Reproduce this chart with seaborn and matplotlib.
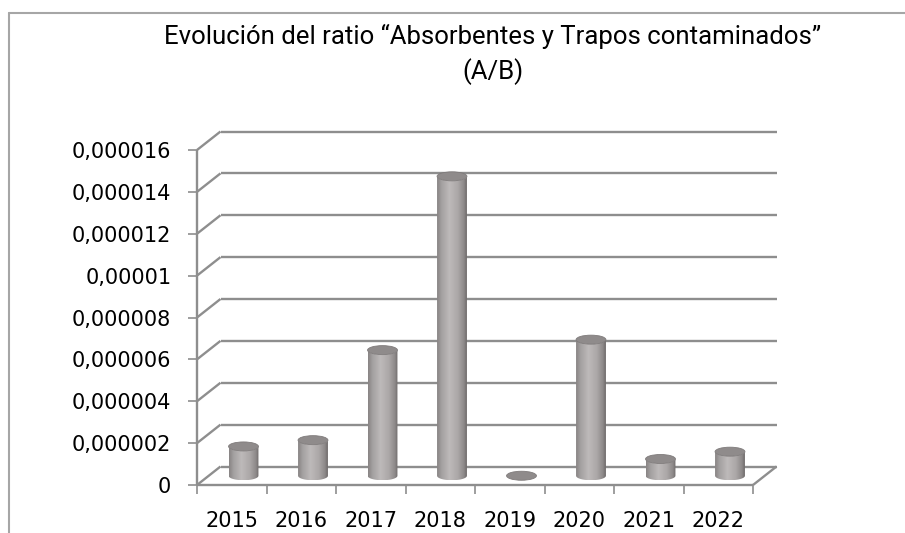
import numpy as np
import pandas as pd
import matplotlib
matplotlib.use("Agg")
import matplotlib.pyplot as plt
import seaborn as sns
from matplotlib.path import Path
from matplotlib.patches import PathPatch, Ellipse
from matplotlib.lines import Line2D
from matplotlib.colors import LinearSegmentedColormap

# Data
years = ["2015", "2016", "2017", "2018", "2019", "2020", "2021", "2022"]
ratio = [1.4e-6, 1.7e-6, 6.0e-6, 14.3e-6, 0.0, 6.5e-6, 0.8e-6, 1.15e-6]
y_ticks = [0, 2e-6, 4e-6, 6e-6, 8e-6, 10e-6, 12e-6, 14e-6, 16e-6]
y_tick_labels = ["0", "0,000002", "0,000004", "0,000006", "0,000008",
                 "0,00001", "0,000012", "0,000014", "0,000016"]
title_line1 = "Evolución del ratio “Absorbentes y Trapos contaminados”"
title_line2 = "(A/B)"

sns.set_style("white")
plt.rcParams["font.family"] = ["DejaVu Sans"]
plt.rcParams["text.color"] = "black"

W, H = 905, 533
fig = plt.figure(figsize=(W / 100, H / 100), dpi=100)
ax = fig.add_axes([197 / W, 48 / H, 556 / W, 335 / H])

df = pd.DataFrame({"year": years, "ratio": ratio})
sns.barplot(data=df, x="year", y="ratio", color="#a8a4a4", width=0.43, ax=ax)

ax.set_xlim(-0.5, len(years) - 0.5)
ax.set_ylim(0, y_ticks[-1])
for s in ax.spines.values():
    s.set_visible(False)

# pixel -> data conversion for the fake 3D depth
bbox = ax.get_window_extent()
kx = len(years) / bbox.width
ky = y_ticks[-1] / bbox.height
dx, dy = 23.5 * kx, 18.5 * ky
x0, x1 = -0.5, len(years) - 0.5

line_kw = dict(color="#8e8e8e", lw=1.7, solid_capstyle="butt", clip_on=False, zorder=1)
for v in y_ticks:
    ax.plot([x0 + dx, x1 + dx], [v + dy, v + dy], **line_kw)   # back wall
    ax.plot([x0, x0 + dx], [v, v + dy], **line_kw)             # side wall
ax.plot([x0, x0], [0, y_ticks[-1]], **line_kw)                 # front axis
ax.plot([x0, x1], [0, 0], **line_kw)                           # floor front edge
ax.plot([x1, x1 + dx], [0, dy], **line_kw)                     # floor right edge

# cylinders built on the seaborn bars
cyl_cmap = LinearSegmentedColormap.from_list(
    "cyl", [(0, "#878383"), (0.15, "#a3a0a0"), (0.42, "#bebaba"),
            (0.7, "#aba7a7"), (0.9, "#8d8989"), (1, "#6e6a6a")])
gradient = np.linspace(0, 1, 256).reshape(1, -1)
ry = 4.5 * ky
for p in list(ax.patches):
    w = p.get_width()
    h = p.get_height()
    cx = p.get_x() + w / 2 + dx / 2
    base = dy / 2
    top = base + h
    p.set_visible(False)
    t = np.linspace(np.pi, 2 * np.pi, 40)
    bottom_arc = np.column_stack([cx + w / 2 * np.cos(t), base + ry * np.sin(t)])
    top_arc = np.column_stack([cx + w / 2 * np.cos(t[::-1]), top + ry * np.sin(t[::-1])])
    verts = np.vstack([bottom_arc, top_arc, bottom_arc[:1]])
    body = PathPatch(Path(verts, closed=True), facecolor="none", edgecolor="none",
                     clip_on=False, zorder=4)
    ax.add_patch(body)
    im = ax.imshow(gradient, extent=(cx - w / 2, cx + w / 2, base - ry, top + ry),
                   aspect="auto", cmap=cyl_cmap, zorder=4, interpolation="bilinear")
    im.set_clip_path(body)
    ax.add_patch(Ellipse((cx, top), w, 2 * ry, facecolor="#8f8b8b",
                         edgecolor="#7f7b7b", lw=0.6, zorder=5, clip_on=False))

ax.set_xlim(x0, x1)
ax.set_ylim(0, y_ticks[-1])
ax.set_aspect("auto")

# ticks
ax.set_yticks(y_ticks)
ax.set_yticklabels(y_tick_labels)
ax.set_xticks(np.arange(x0, x1 + 0.01, 1))
ax.set_xticklabels([])
ax.set_xticks(np.arange(len(years)), minor=True)
ax.set_xticklabels(years, minor=True)
ax.tick_params(axis="y", left=True, length=6.5, width=1.2, color="#8e8e8e",
               pad=12, labelsize=15, labelcolor="black")
ax.tick_params(axis="x", which="major", bottom=True, length=6.5, width=1.2,
               color="#8e8e8e")
ax.tick_params(axis="x", which="minor", bottom=True, length=0, pad=19,
               labelsize=15, labelcolor="black")
ax.set_xlabel("")
ax.set_ylabel("")

# title
title_font = ["Roboto", "DejaVu Sans"]
fig.text(493 / W, 1 - 36 / H, title_line1, ha="center", va="center",
         fontsize=18.5, family=title_font, color="black")
fig.text(493 / W, 1 - 72 / H, title_line2, ha="center", va="center",
         fontsize=18.5, family=title_font, color="black")

# chart frame (left and top edges visible)
frame_kw = dict(transform=fig.transFigure, color="#a6a6a6", lw=1.5)
fig.add_artist(Line2D([9 / W, 9 / W], [0, 1 - 13 / H], **frame_kw))
fig.add_artist(Line2D([9 / W, 1], [1 - 13 / H, 1 - 13 / H], **frame_kw))

fig.savefig("out.png", dpi=100)
